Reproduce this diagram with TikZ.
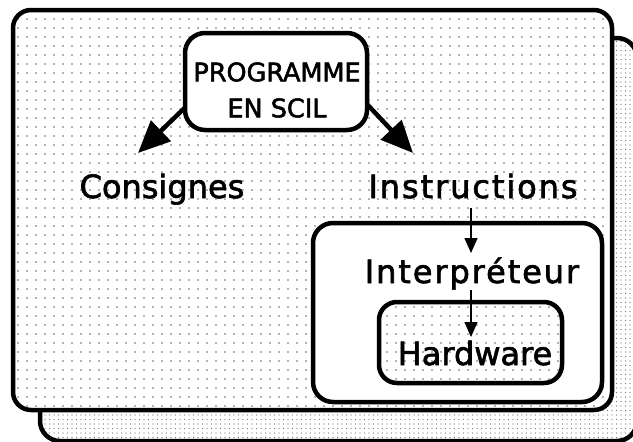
\documentclass[tikz,border=0pt]{standalone}
\usepackage{fontspec}
\setmainfont{DejaVu Sans}[FakeBold=2]
\usetikzlibrary{arrows.meta,patterns.meta}
\begin{document}
\begin{tikzpicture}[x=1pt,y=-1pt,
  panel/.style={draw=black, line width=4.5pt, rounded corners=18pt, preaction={fill=white}, inner sep=0pt, outer sep=0pt},
  frontdots/.style={pattern={Dots[distance=9pt,radius=0.9pt]}, pattern color=black!60},
  backdots/.style={pattern={Dots[distance=4.5pt,radius=0.7pt]}, pattern color=black!55},
  lbl/.style={inner sep=0pt, font=\fontsize{32}{38}\selectfont},
  widelbl/.style={inner sep=0pt, font=\fontsize{32}{38}\selectfont\addfontfeature{LetterSpace=6}},
  progfont/.style={inner sep=0pt, align=center, font=\fontsize{25.5}{36}\selectfont},
  bigarrow/.style={line width=4.5pt, -{Triangle[length=32pt,width=28pt]}},
  smallarrow/.style={line width=1.5pt, -{Triangle[length=15pt,width=13pt]}}
]
\useasboundingbox (0,0) rectangle (633,442);
\clip (0,0) rectangle (633,442);
% back and front panels
\node[panel, backdots, rounded corners=20pt, minimum width=597pt, minimum height=403pt] (back) at (338.5,239.5) {};
\node[panel, frontdots, minimum width=599pt, minimum height=400pt] (front) at (312.5,210) {};
% programme box
\node[panel, rounded corners=20pt, minimum width=182pt, minimum height=97pt] (prog) at (276,81.5) {};
\node[progfont] (progtxt) at (277,90) {PROGRAMME\\EN SCIL};
% interpreter box and hardware box
\node[panel, rounded corners=20pt, minimum width=289pt, minimum height=179pt] (interpbox) at (457.5,312.5) {};
\node[panel, frontdots, rounded corners=18pt, minimum width=183pt, minimum height=81pt] (hwbox) at (470.5,342.5) {};
% labels
\node[lbl, anchor=base] (cons) at (162,198) {Consignes};
\node[widelbl, anchor=base] (instr) at (473,198) {Instructions};
\node[widelbl, anchor=base] (interp) at (472,283) {Interpréteur};
\node[lbl, anchor=base] (hw) at (475,365) {Hardware};
% arrows
\coordinate (ctip) at (138,153);
\coordinate (itip) at (413,153);
\coordinate (t1) at (471,253);
\coordinate (t2) at (471,337);
\draw[bigarrow] (prog.196) -- (ctip);
\draw[bigarrow] (prog.-14) -- (itip);
\draw[smallarrow, shorten <=9pt] (instr.south -| t1) -- (t1);
\draw[smallarrow] (interp.south -| t2) -- (t2);
\end{tikzpicture}
\end{document}
